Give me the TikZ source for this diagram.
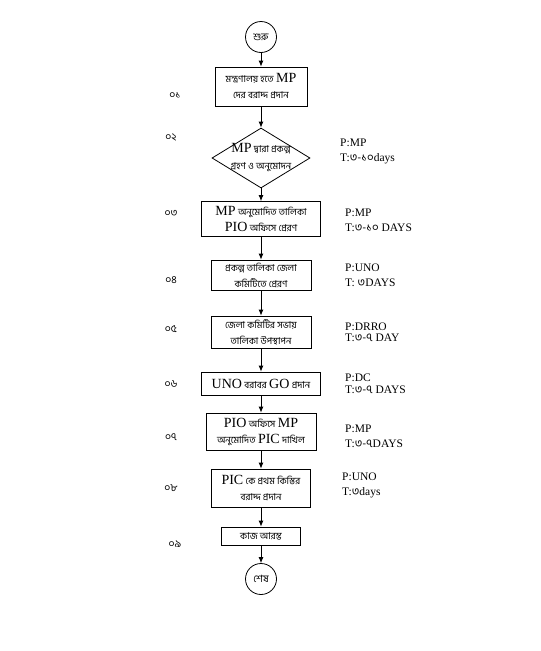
\documentclass[tikz,border=0pt]{standalone}
\usepackage{fontspec}
\setmainfont{Liberation Serif}
\newfontfamily\bnf[Script=Bengali]{Hind Siliguri}
\usetikzlibrary{shapes.geometric,arrows.meta}
\newcommand\bt[1]{{\bnf #1}}
\newcommand\lat[1]{{\fontsize{14}{14}\selectfont #1}}
\begin{document}
\begin{tikzpicture}[x=1pt,y=-1pt,
  box/.style={draw,thick,rectangle,inner sep=1pt,align=center,font={\fontsize{9.5}{16}\selectfont}},
  term/.style={draw,thick,circle,minimum size=31pt,inner sep=0pt,font={\fontsize{10}{12}\selectfont}},
  dia/.style={draw,thick,diamond,minimum width=98pt,minimum height=60pt,inner sep=0pt},
  arr/.style={thick,-{Latex[length=6pt,width=5pt]}},
  num/.style={font={\fontsize{10.5}{11}\selectfont}},
  side/.style={anchor=west,align=left,inner sep=0pt,font={\fontsize{11.5}{15}\selectfont}}
]
\useasboundingbox (0,0) rectangle (541,651);
\fill[white] (0,0) rectangle (541,651);

\node[term] (s) at (261,37) {\bt{শুরু}};
\node[box,minimum width=92pt,minimum height=39pt] (b1) at (261,86.5)
  {\bt{মন্ত্রণালয় হতে} \lat{MP}\\\bt{দের বরাদ্দ প্রদান}};
\node[dia] (b2) at (261,158) {};
\node[align=center,inner sep=0pt,font={\fontsize{9.5}{17}\selectfont}] (b2t) at (b2)
  {\lat{MP} \bt{দ্বারা প্রকল্প}\\\bt{গ্রহণ ও অনুমোদন}};
\node[box,minimum width=119pt,minimum height=35pt] (b3) at (261,219)
  {\lat{MP} \bt{অনুমোদিত  তালিকা}\\\lat{PIO} \bt{অফিসে প্রেরণ}};
\node[box,minimum width=100pt,minimum height=30pt] (b4) at (261,275)
  {\bt{প্রকল্প তালিকা জেলা}\\\bt{কমিটিতে প্রেরণ}};
\node[box,minimum width=100pt,minimum height=32pt] (b5) at (261,332)
  {\bt{জেলা কমিটির সভায়}\\\bt{তালিকা উপস্থাপন}};
\node[box,minimum width=119pt,minimum height=23pt] (b6) at (261,383.5)
  {\lat{UNO} \bt{বরাবর} \lat{GO} \bt{প্রদান}};
\node[box,minimum width=110pt,minimum height=37pt] (b7) at (261,431.5)
  {\lat{PIO} \bt{অফিসে} \lat{MP}\\\bt{অনুমোদিত} \lat{PIC} \bt{দাখিল}};
\node[box,minimum width=99pt,minimum height=38pt] (b8) at (261,488)
  {\lat{PIC} \bt{কে প্রথম কিস্তির}\\\bt{বরাদ্দ প্রদান}};
\node[box,minimum width=79pt,minimum height=18pt] (b9) at (261,536)
  {\bt{কাজ আরম্ভ}};
\node[term] (e) at (261,579) {\bt{শেষ}};

\draw[arr] (s) -- (b1);
\draw[arr] (b1) -- (b2);
\draw[arr] (b2) -- (b3);
\draw[arr] (b3) -- (b4);
\draw[arr] (b4) -- (b5);
\draw[arr] (b5) -- (b6);
\draw[arr] (b6) -- (b7);
\draw[arr] (b7) -- (b8);
\draw[arr] (b8) -- (b9);
\draw[arr] (b9) -- (e);

\node[num] (n1) at (175,95) {\bt{০১}};
\node[num] (n2) at (171,137) {\bt{০২}};
\node[num] (n3) at (171,213) {\bt{০৩}};
\node[num] (n4) at (171,280) {\bt{০৪}};
\node[num] (n5) at (171,329) {\bt{০৫}};
\node[num] (n6) at (171,384) {\bt{০৬}};
\node[num] (n7) at (171,437) {\bt{০৭}};
\node[num] (n8) at (171,488) {\bt{০৮}};
\node[num] (n9) at (175,544) {\bt{০৯}};

\node[side] (r2) at (340,151) {P:MP\\T:\bt{৩-১০}days};
\node[side] (r3) at (345,220) {P:MP\\T:\bt{৩-১০} DAYS};
\node[side] (r4) at (345,275) {P:UNO\\T: \bt{৩}DAYS};
\node[side,font={\fontsize{11.5}{11}\selectfont}] (r5) at (345,332) {P:DRRO\\T:\bt{৩-৭} DAY};
\node[side,font={\fontsize{11.5}{12}\selectfont}] (r6) at (345,384) {P:DC\\T:\bt{৩-৭} DAYS};
\node[side] (r7) at (345,436) {P:MP\\T:\bt{৩-৭}DAYS};
\node[side] (r8) at (342,485) {P:UNO\\T:\bt{৩}days};
\end{tikzpicture}
\end{document}
